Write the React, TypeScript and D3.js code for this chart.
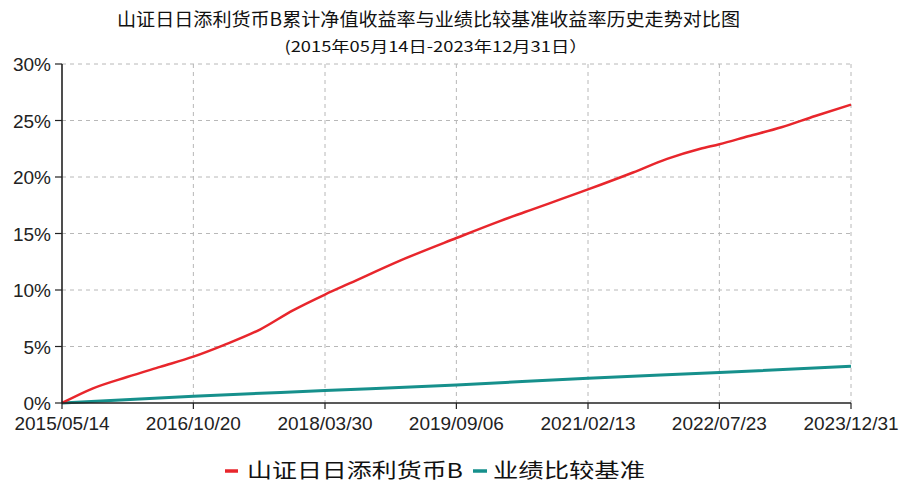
import React from "react";
import * as d3 from "d3";

const TITLE = "山证日日添利货币B累计净值收益率与业绩比较基准收益率历史走势对比图";
const SUBTITLE = "(2015年05月14日-2023年12月31日）";
const SERIES_NAMES = ["山证日日添利货币B", "业绩比较基准"];

const X_TICKS = ["2015/05/14", "2016/10/20", "2018/03/30", "2019/09/06", "2021/02/13", "2022/07/23", "2023/12/31"];
const Y_TICKS = [0, 5, 10, 15, 20, 25, 30];

const FUND_DATES = [
  "2015/05/14", "2015/09/15", "2016/01/29", "2016/06/09", "2016/10/20", "2017/02/16",
  "2017/07/13", "2017/11/22", "2018/03/30", "2018/07/08", "2019/01/24", "2019/09/06",
  "2020/02/27", "2020/06/06", "2021/02/13", "2021/08/12", "2021/12/26",
  "2022/05/08", "2022/07/23", "2022/11/15", "2023/03/28", "2023/08/10", "2023/12/31",
];
const FUND_VALUES = [
  0, 1.3, 2.3, 3.2, 4.1, 5.1,
  6.5, 8.2, 9.6, 10.6, 12.6, 14.6,
  16.1, 16.9, 18.9, 20.4, 21.6,
  22.5, 22.9, 23.6, 24.4, 25.4, 26.4,
];

const BENCH_DATES = ["2015/05/14", "2016/10/20", "2018/03/30", "2019/09/06", "2021/02/13", "2022/07/23", "2023/12/31"];
const BENCH_VALUES = [0, 0.6, 1.1, 1.6, 2.2, 2.7, 3.25];

const parse = d3.timeParse("%Y/%m/%d");

export default function App() {
  const W = 903, H = 484;
  const left = 62, right = 851, top = 64, bottom = 403;
  const x = d3.scaleTime()
    .domain([parse(X_TICKS[0])!, parse(X_TICKS[X_TICKS.length - 1])!])
    .range([left, right]);
  const y = d3.scaleLinear().domain([0, 30]).range([bottom, top]);

  const fund = FUND_DATES.map((d, i) => [x(parse(d)!), y(FUND_VALUES[i])] as [number, number]);
  const bench = BENCH_DATES.map((d, i) => [x(parse(d)!), y(BENCH_VALUES[i])] as [number, number]);
  const line = d3.line().curve(d3.curveMonotoneX);

  const axisFont = "'Liberation Sans', Arial, sans-serif";
  const cjkFont = "'Noto Sans CJK SC', sans-serif";

  return (
    <svg width={W} height={H} style={{ position: "absolute", left: 0, top: 0, background: "#fff" }}>
      <rect x={0} y={0} width={W} height={H} fill="#fff" />
      <text x={428.5} y={26} textAnchor="middle" fontFamily={cjkFont} fontSize={18}
        textLength={623} lengthAdjust="spacingAndGlyphs" fill="#111">{TITLE}</text>
      <text x={436} y={52} textAnchor="middle" fontFamily={cjkFont} fontSize={15}
        textLength={303} lengthAdjust="spacingAndGlyphs" fill="#111">{SUBTITLE}</text>

      {Y_TICKS.filter(v => v > 0).map(v => (
        <line key={"gy" + v} x1={left} x2={right} y1={y(v)} y2={y(v)}
          stroke="#b8b8b8" strokeWidth={1} strokeDasharray="4,4" />
      ))}
      {X_TICKS.slice(1).map(t => (
        <line key={"gx" + t} x1={x(parse(t)!)} x2={x(parse(t)!)} y1={top} y2={bottom}
          stroke="#b8b8b8" strokeWidth={1} strokeDasharray="4,4" />
      ))}

      <path d={line(bench) || ""} fill="none" stroke="#16908c" strokeWidth={3} />
      <path d={line(fund) || ""} fill="none" stroke="#e8262c" strokeWidth={2.5} />

      <line x1={left} x2={left} y1={top} y2={bottom + 0.5} stroke="#222" strokeWidth={1.6} />
      <line x1={left} x2={right} y1={bottom} y2={bottom} stroke="#222" strokeWidth={1.6} />
      {Y_TICKS.map(v => (
        <g key={"ty" + v}>
          <line x1={left - 7} x2={left} y1={y(v)} y2={y(v)} stroke="#222" strokeWidth={1.2} />
          <text x={left - 11} y={y(v) + 7} textAnchor="end" fontFamily={axisFont} fontSize={19} fill="#222">{v}%</text>
        </g>
      ))}
      {X_TICKS.map(t => (
        <g key={"tx" + t}>
          <line x1={x(parse(t)!)} x2={x(parse(t)!)} y1={bottom} y2={bottom + 6} stroke="#222" strokeWidth={1.2} />
          <text x={x(parse(t)!)} y={bottom + 27} textAnchor="middle" fontFamily={axisFont} fontSize={19} fill="#222">{t}</text>
        </g>
      ))}

      <line x1={225} x2={238} y1={471} y2={471} stroke="#e8262c" strokeWidth={3.5} />
      <text x={247} y={478} fontFamily={cjkFont} fontSize={20} textLength={216} lengthAdjust="spacingAndGlyphs" fill="#111">{SERIES_NAMES[0]}</text>
      <line x1={473} x2={487} y1={471} y2={471} stroke="#16908c" strokeWidth={3.5} />
      <text x={493} y={478} fontFamily={cjkFont} fontSize={20} textLength={152} lengthAdjust="spacingAndGlyphs" fill="#111">{SERIES_NAMES[1]}</text>
    </svg>
  );
}
